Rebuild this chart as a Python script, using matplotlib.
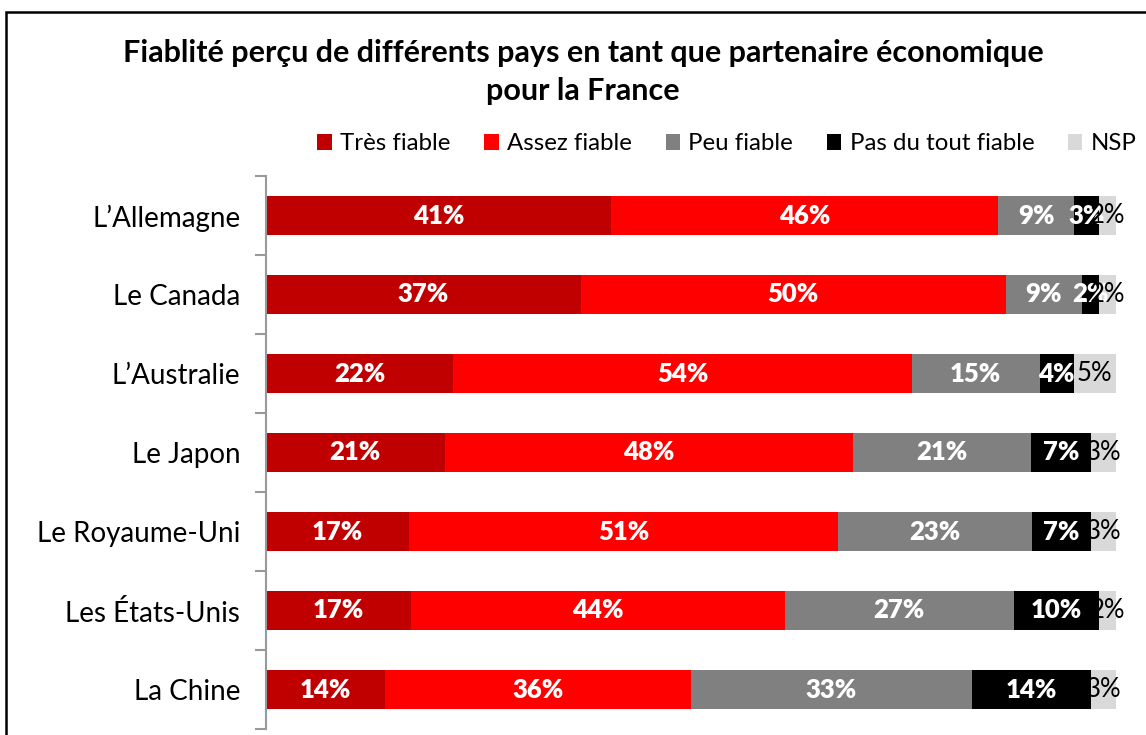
import matplotlib
matplotlib.use("Agg")
import matplotlib.pyplot as plt
from matplotlib.patches import Rectangle
import numpy as np

plt.rcParams['font.family'] = ['Lato', 'DejaVu Sans']

countries = ["L’Allemagne", "Le Canada", "L’Australie", "Le Japon",
             "Le Royaume-Uni", "Les États-Unis", "La Chine"]
series = ["Très fiable", "Assez fiable", "Peu fiable", "Pas du tout fiable", "NSP"]
tres_fiable = [41, 37, 22, 21, 17, 17, 14]
assez_fiable = [46, 50, 54, 48, 51, 44, 36]
peu_fiable = [9, 9, 15, 21, 23, 27, 33]
pas_du_tout = [3, 2, 4, 7, 7, 10, 14]
nsp = [2, 2, 5, 3, 3, 2, 3]

colors = ['#C00000', '#FF0000', '#808080', '#000000', '#D9D9D9']
label_colors = ['white', 'white', 'white', 'white', 'black']
label_weights = ['heavy', 'heavy', 'heavy', 'heavy', 'normal']


def main():
    fig = plt.figure(figsize=(11.46, 7.35), dpi=100)
    ax = fig.add_axes([266/1146, 6/735, 850/1146, 553/735])

    data = np.array([tres_fiable, assez_fiable, peu_fiable, pas_du_tout, nsp], dtype=float)
    shares = data / data.sum(axis=0)
    y = np.arange(len(countries))
    left = np.zeros(len(countries))
    for k in range(len(series)):
        ax.barh(y, shares[k], left=left, height=0.49, color=colors[k],
                label=series[k], edgecolor='none')
        for i in range(len(countries)):
            ax.text(left[i] + shares[k][i] / 2, y[i], "%d%%" % data[k][i],
                    ha='center', va='center', fontsize=18.5,
                    color=label_colors[k], fontweight=label_weights[k])
        left += shares[k]

    ax.set_xlim(0, 1)
    ax.set_ylim(len(countries) - 0.5, -0.5)
    ax.set_xticks([])
    ax.set_yticks(np.arange(-0.5, len(countries)), minor=True)
    ax.set_yticks(y)
    ax.set_yticklabels(countries, fontsize=20)
    ax.tick_params(axis='y', which='major', length=0, pad=18.5)
    ax.tick_params(axis='y', which='minor', length=8, width=1.5, color='#999999')
    for s in ['top', 'right', 'bottom']:
        ax.spines[s].set_visible(False)
    ax.spines['left'].set_color('#999999')
    ax.spines['left'].set_linewidth(1.5)

    fig.text(583/1146, 1 - 72/735, "Fiablité perçu de différents pays en tant que partenaire économique\npour la France",
             ha='center', va='center', fontsize=22, fontweight='bold', linespacing=1.4)

    fig.legend(loc='center', bbox_to_anchor=(727/1146, 1 - 144/735), ncol=5, frameon=False,
               fontsize=17.3, handlelength=0.6, handleheight=0.6, handletextpad=0.35,
               columnspacing=1.4)

    fig.patches.append(Rectangle((6/1146, -0.1), 1.2, 1.1 - 12/735, transform=fig.transFigure,
                                 fill=False, edgecolor='black', linewidth=1.8))

    plt.savefig("out.png", dpi=100)


if __name__ == '__main__':
    main()
